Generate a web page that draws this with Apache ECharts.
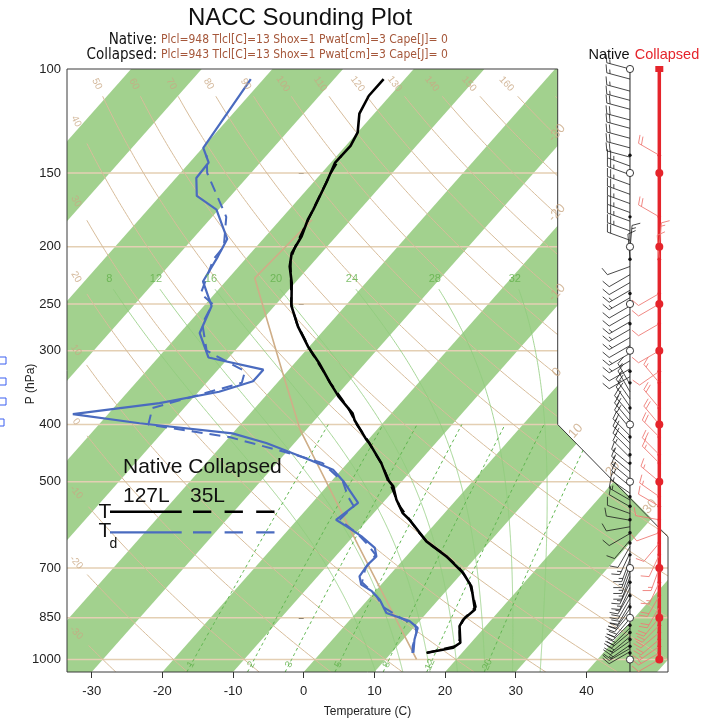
<!DOCTYPE html>
<html><head><meta charset="utf-8">
<script src="https://cdn.jsdelivr.net/npm/echarts@6/dist/echarts.min.js"></script>
<style>html,body{margin:0;padding:0;background:#fff}#c{width:710px;height:719px}</style>
</head><body><div id="c"></div>
<script>
// ---------------- DATA ----------------
const nativeP_T = [974,955,937,878,856,823,752,713,669,631,580,565,536,509,496,465,430,424,393,383,358,354,340,315,295,273,252,230,216,205,192,180,173,156,144,135,128,119,111,104];
const nativeT   = [15.0,18.1,18.5,16.3,16.0,16.4,13.0,10.1,5.7,1.0,-4.1,-5.9,-8.5,-10.6,-12.2,-15.2,-19.4,-20.3,-24.4,-25.5,-29.7,-30.3,-32.5,-36.5,-40.2,-44.1,-47.6,-50.5,-52.8,-54.2,-54.9,-56.1,-56.6,-58.1,-59.4,-59.3,-60.0,-62.1,-63.0,-63.0];
const nativeP_Td = [974,925,884,861,834,792,766,747,723,691,669,647,618,595,580,543,499,477,459,430,414,398,384,368,352,338,323,308,280,252,229,208,194,173,164,153,144,136,104];
const nativeTd   = [13.1,11.6,10.6,8.6,4.3,1.7,-0.5,-2.8,-4.1,-4.4,-4.2,-5.5,-8.9,-12.2,-14.5,-13.5,-18.3,-21.2,-25.8,-34.0,-40.0,-54.4,-65.0,-54.1,-47.1,-43.6,-43.6,-52.9,-57.2,-58.9,-63.2,-64.2,-65.1,-70.3,-74.8,-77.1,-77.3,-79.9,-81.8];

const collapsedP  = [1000,975,950,925,900,875,850,815,780,740,700,665,635,610,580,550,530,500,465,450,420,400,375,340,325,300,270,250,240,210,200,178,150,140,100];
const collapsedT  = [null,15.0,18.2,18.0,17.1,16.3,16.0,16.2,14.4,12.2,9.0,5.3,1.4,-1.1,-4.1,-7.2,-9.0,-11.7,-15.2,-17.0,-20.7,-23.5,-26.8,-32.5,-34.9,-39.3,-44.6,-47.9,-49.2,-53.6,-54.5,-56.2,-58.7,-59.4,null];
const collapsedTd = [null,13.0,12.2,11.6,11.0,9.9,6.9,3.1,0.7,-3.0,-4.3,-4.5,-7.3,-10.0,-14.0,-13.7,-15.7,-18.3,-23.5,-28.5,-40.0,-53.0,-54.5,-45.0,-46.0,-54.0,-58.0,-59.0,-62.0,-64.5,-64.6,-68.0,-76.2,-78.5,null];
const collapsedWindSpd = [10,15,15,20,20,20,20,20,20,15,15,10,10,10,10,10,15,15,15,20,20,20,20,15,10,10,10,10,10,10,15,20,0,20,0];
const collapsedWindDir = [240,240,235,230,230,225,220,210,210,205,200,205,220,250,280,300,305,310,315,315,315,320,320,320,235,240,240,240,240,355,5,300,0,300,0];

const nativeWindP = [100,104,109,113,117,122,126,131,136,141,146,151,157,163,169,175,181,188,195,202,209,216,223,230,237,244,252,260,268,276,285,294,303,312,322,332,342,352,362,373,384,395,406,418,430,442,455,468,481,495,509,523,537,551,566,581,596,612,628,644,660,676,692,708,724,740,756,772,788,804,820,836,852,868,884,900,915,930,945,958,970];
const nativeWindDir = [285,285,285,285,285,285,285,285,285,285,290,290,290,290,290,290,290,290,290,5,355,250,240,240,240,240,240,240,240,240,240,240,240,240,240,240,330,330,325,325,320,320,320,315,315,315,315,310,310,310,310,305,300,300,290,280,260,240,220,210,205,200,200,200,200,205,205,210,210,210,215,220,220,225,225,230,230,235,235,240,240];
const nativeWindSpd = [15,15,15,15,20,20,20,20,20,20,25,25,25,25,25,25,25,25,20,15,10,10,10,10,15,15,10,10,15,15,15,10,15,15,10,10,15,15,20,20,20,20,20,20,20,20,15,15,15,15,15,15,15,10,10,10,10,10,10,10,15,15,15,15,15,15,15,15,20,20,20,20,20,20,20,20,20,15,15,15,10];

const parcelP = [1000,639,408,323,226,180];
const parcelT = [14.4,-8.3,-30.9,-41.0,-56.3,-55.5];

const xTicks = [-30,-20,-10,0,10,20,30,40];
const pTicks = [100,150,200,250,300,400,500,700,850,1000];
const mandatoryP = [100,150,200,250,300,400,500,700,850,1000];
const dryThetas = [-40,-30,-20,-10,0,10,20,30,40,50,60,70,80,90,100,110,120,130,140,150,160,170];
const moistThetaW = [8,12,16,20,24,28,32];
const mixRatios = [1,2,3,5,8,12,20];
const isoLabelsEdge = [-30,-20,-10,0];
const isoLabelsDiag = [10,20,30];

// ---------------- geometry helpers ----------------
const S = 74, LOGB = Math.log10(1050);
const X_MIN = -33.5, X_MAX = 51.55, X_NOTCH = 35.94;
const COL_NATIVE = 46.17, COL_COLL = 50.32;
function toXY(T, p){ const lp = Math.log10(p); return [T + S*(LOGB - lp), lp]; }
function dryT(th, p){ return (th+273.15)*Math.pow(p/1000, 0.2857) - 273.15; }
function dTdp(T,p){ const Tc=T-273.15; const es=6.112*Math.exp(17.67*Tc/(Tc+243.5)); const rs=0.622*es/(p-es);
  const Lv=2.501e6,Rd=287.04,cp=1005.7; return (Rd*T+Lv*rs)/(p*(cp+Lv*Lv*rs*0.622/(Rd*T*T))); }
function rk(T,p,dp){ const k1=dTdp(T,p),k2=dTdp(T+k1*dp/2,p+dp/2),k3=dTdp(T+k2*dp/2,p+dp/2),k4=dTdp(T+k3*dp,p+dp); return T+dp*(k1+2*k2+2*k3+k4)/6; }
function moistCurve(tw){ let T=tw+273.15,p=1000; const down=[]; while(p<1050){T=rk(T,p,2);p+=2;down.push(toXY(T-273.15,p));}
  T=tw+273.15;p=1000; const up=[toXY(tw,1000)]; while(p>236){T=rk(T,p,-2);p-=2;up.push(toXY(T-273.15,p));} return down.reverse().concat(up); }
function tdFromW(w,p){ const e=w*p/(622+w); const l=Math.log(e/6.112); return 243.5*l/(17.67-l); }
function bisect(f,a,b){ let fa=f(a); for(let i=0;i<60;i++){ const m=(a+b)/2, fm=f(m); if((fm>0)===(fa>0)){a=m;fa=fm;} else b=m; } return (a+b)/2; }

const dryLines = dryThetas.map(th=>{ const pts=[]; for(let lp=LOGB; lp>=Math.log10(110)-1e-9; lp-=0.005){ const p=Math.pow(10,lp); const xy=toXY(dryT(th,p),p); if(th<=40 && xy[0]<-30.8) continue; pts.push(xy);} return pts; });
const moistLines = moistThetaW.map(moistCurve);
const mixLines = mixRatios.map(w=>{ const pts=[]; for(let p=1050;p>=400;p-=10) pts.push(toXY(tdFromW(w,p),p)); return pts; });

const PXDEG = 601/(X_MAX-X_MIN), PXDEC = 603/(LOGB-2);
const labelData = [];
const tan='#c9a883', grn='#62b04a';
dryThetas.forEach(th=>{
  if(th>=50 && th<=160){ const p=106, T=dryT(th,p)+273.15; const ang=Math.atan(PXDEC/(PXDEG*(0.658*T-S)))*180/Math.PI;
    labelData.push({value:toXY(dryT(th,p),p), label:{formatter:String(th), rotate:-ang, color:tan, fontSize:10}}); }
  if(th>=-30 && th<=40){ const lp=bisect(l=>{const p=Math.pow(10,l); return toXY(dryT(th,p),p)[0]+32.2;}, 2, LOGB); const p=Math.pow(10,lp);
    const T=dryT(th,p)+273.15; const ang=Math.atan(PXDEC/(PXDEG*(0.658*T-S)))*180/Math.PI;
    labelData.push({value:[-32.2,lp], label:{formatter:String(th), rotate:-ang, color:tan, fontSize:10}}); }
});
const isoAng = Math.atan(PXDEC/(PXDEG*S))*180/Math.PI;
isoLabelsEdge.forEach(T=>{ const lp=LOGB-(X_NOTCH-T)/S; labelData.push({value:[X_NOTCH,lp], label:{formatter:String(T), rotate:isoAng, offset:[9,-9], color:tan, fontSize:13}}); });
isoLabelsDiag.forEach(T=>{ const l1=Math.log10(400), l2=Math.log10(620);
  const t=bisect(tt=>{const x=X_NOTCH+tt*(X_MAX-X_NOTCH), lp=l1+tt*(l2-l1); return T+S*(LOGB-lp)-x;},0,1);
  labelData.push({value:[X_NOTCH+t*(X_MAX-X_NOTCH), l1+t*(l2-l1)], label:{formatter:String(T), rotate:isoAng, offset:[9,-9], color:tan, fontSize:13}}); });
moistLines.forEach((pts,i)=>{ const e=pts[pts.length-1]; labelData.push({value:e, label:{formatter:String(moistThetaW[i]), offset:[-4,-10], color:grn, fontSize:11}}); });
mixRatios.forEach(w=>{ const p=1020, td=tdFromW(w,p); const dd=Math.pow(243.5+td,2)/(243.5*17.67)*Math.LN10;
  const ang=Math.atan(PXDEC/(PXDEG*(S-dd)))*180/Math.PI; labelData.push({value:toXY(td,p), label:{formatter:String(w), rotate:ang, color:grn, fontSize:10}}); });

const stripeStarts = []; for(let t=-120;t<=40;t+=20) stripeStarts.push(t);

function polyRender(lines, style){ return function(params, api){ const pts=lines[params.dataIndex].map(a=>api.coord(a)); return {type:'polyline', shape:{points:pts}, style:Object.assign({fill:null}, style), silent:true}; }; }
function ph(n){ const a=[]; for(let i=0;i<n;i++) a.push([0,2.5]); return a; }

function barbRender(color, lw, L, FL){
  return function(params, api){
    const c=api.coord([api.value(0), api.value(1)]), spd=api.value(2), dir=api.value(3); const ch=[];
    if(spd>=2.5){ const th=dir*Math.PI/180, ux=Math.sin(th), uy=-Math.cos(th); const px=-uy, py=ux;
      const fx=px*0.94+ux*0.34, fy=py*0.94+uy*0.34; const tx=c[0]+ux*L, ty=c[1]+uy*L;
      const st={stroke:color, lineWidth:lw};
      ch.push({type:'line', shape:{x1:c[0],y1:c[1],x2:tx,y2:ty}, style:st});
      const r=Math.round(spd/5)*5, nF=Math.floor(r/10), half=(r%10)>=5, sp=3.4; let pos=(nF===0&&half)?sp:0;
      for(let k=0;k<nF;k++){ const bx=tx-ux*pos, by=ty-uy*pos; ch.push({type:'line', shape:{x1:bx,y1:by,x2:bx+fx*FL,y2:by+fy*FL}, style:st}); pos+=sp; }
      if(half){ const bx=tx-ux*pos, by=ty-uy*pos; ch.push({type:'line', shape:{x1:bx,y1:by,x2:bx+fx*FL/2,y2:by+fy*FL/2}, style:st}); }
    }
    return {type:'group', children:ch, silent:true};
  };
}

const chart = echarts.init(document.getElementById('c'), null, {renderer:'canvas'});
const FONT="'Liberation Sans', Arial, sans-serif";
const NARROW="'Liberation Sans Narrow','DejaVu Sans Condensed','Liberation Sans',sans-serif";
const lineData = (P, V)=>P.map((p,i)=>V[i]==null?null:toXY(V[i],p)).filter(a=>a);

function txt(text, x, y, size, color, align, opts){ return Object.assign({type:'text', x:x, y:y, silent:true, z:100,
  style:{text:text, fill:color||'#000', fontSize:size, fontFamily:(opts&&opts.ff)||FONT, align:align||'center', textAlign:align||'center', verticalAlign:'middle', textVerticalAlign:'middle'}}, opts&&opts.el||{}); }
function seg(x1,y1,x2,y2,color,w,dash){ return {type:'line', shape:{x1,y1,x2,y2}, style:{stroke:color,lineWidth:w,lineDash:dash||null}, z:100, silent:true}; }

const option = {
  animation:false, backgroundColor:'#fff',
  grid:{left:67, top:69, width:601, height:603, show:false},
  xAxis:{type:'value', min:X_MIN, max:X_MAX, axisLine:{show:false}, splitLine:{show:false},
    axisTick:{show:true, length:6, customValues:xTicks, lineStyle:{color:'#333'}},
    axisLabel:{customValues:xTicks, fontSize:13, color:'#222', margin:13, fontFamily:FONT}},
  yAxis:{type:'value', inverse:true, min:2, max:LOGB, axisLine:{show:false}, splitLine:{show:false},
    axisTick:{show:true, length:5, customValues:pTicks.map(p=>Math.log10(p)), lineStyle:{color:'#333'}},
    axisLabel:{customValues:pTicks.map(p=>Math.log10(p)), formatter:v=>String(Math.round(Math.pow(10,v))), fontSize:13, color:'#222', margin:6, fontFamily:FONT}},
  series:[
    {type:'custom', z:1, clip:true, silent:true, data:ph(stripeStarts.length), renderItem:(params,api)=>{ const t1=stripeStarts[params.dataIndex];
      const pts=[toXY(t1,1050),toXY(t1+10,1050),toXY(t1+10,100),toXY(t1,100)].map(a=>api.coord(a)); return {type:'polygon', shape:{points:pts}, style:{fill:'#a2d18e'}}; }},
    {type:'custom', z:2, clip:true, silent:true, data:ph(pTicks.length-1), renderItem:(params,api)=>{ const lp=Math.log10(pTicks[params.dataIndex+1]);
      const a=api.coord([X_MIN,lp]), b=api.coord([X_MAX,lp]); return {type:'line', shape:{x1:a[0],y1:a[1],x2:b[0],y2:b[1]}, style:{stroke:'#e4cfb3', lineWidth:1.6}}; }},
    {type:'custom', z:2, clip:true, silent:true, data:ph(dryLines.length), renderItem:polyRender(dryLines,{stroke:'#d8bd9b', lineWidth:1})},
    {type:'custom', z:2, clip:true, silent:true, data:ph(moistLines.length), renderItem:polyRender(moistLines,{stroke:'#8fcc7c', lineWidth:0.8})},
    {type:'custom', z:2, clip:true, silent:true, data:ph(mixLines.length), renderItem:polyRender(mixLines,{stroke:'#5fb64f', lineWidth:1, lineDash:[3,3]})},
    {type:'line', z:3, name:'parcel', data:lineData(parcelP,parcelT), showSymbol:false, silent:true, lineStyle:{color:'#cfae88', width:1.6}},
    {type:'custom', z:4, clip:false, silent:true, data:ph(1), renderItem:(params,api)=>{ const pts=[[X_NOTCH,2],[X_MAX+0.3,2],[X_MAX+0.3,Math.log10(620)],[X_NOTCH,Math.log10(400)]].map(a=>api.coord(a));
      pts[0][1]-=1; pts[1][1]-=1; return {type:'polygon', shape:{points:pts}, style:{fill:'#fff'}}; }},
    {type:'custom', z:5, clip:false, silent:true, data:ph(1), renderItem:(params,api)=>{ const pts=[[X_MIN,2],[X_NOTCH,2],[X_NOTCH,Math.log10(400)],[X_MAX,Math.log10(620)],[X_MAX,LOGB],[X_MIN,LOGB]].map(a=>api.coord(a));
      return {type:'polygon', shape:{points:pts}, style:{fill:null, stroke:'#3a3a3a', lineWidth:1}}; }},
    {type:'line', z:6, name:'Td collapsed', data:lineData(collapsedP,collapsedTd), showSymbol:false, silent:true, lineStyle:{color:'#4a6bbf', width:2, type:[11,7]}},
    {type:'line', z:6, name:'T collapsed', data:lineData(collapsedP,collapsedT), showSymbol:false, silent:true, lineStyle:{color:'#000', width:2.2, type:[11,7]}},
    {type:'line', z:7, name:'Td native', data:lineData(nativeP_Td,nativeTd), showSymbol:false, silent:true, lineStyle:{color:'#4a6bbf', width:2.2}},
    {type:'line', z:7, name:'T native', data:lineData(nativeP_T,nativeT), showSymbol:false, silent:true, lineStyle:{color:'#000', width:2.6}},
    {type:'scatter', z:8, clip:false, silent:true, symbolSize:0, data:labelData, label:{show:true, position:'inside', fontFamily:FONT}},
    {type:'custom', z:9, clip:false, silent:true, data:ph(1), renderItem:(params,api)=>{ const a=api.coord([COL_NATIVE,2]), b=api.coord([COL_NATIVE,LOGB]);
      const c=api.coord([COL_COLL,2]), d=api.coord([COL_COLL,3]);
      return {type:'group', children:[{type:'line', shape:{x1:a[0],y1:a[1],x2:b[0],y2:b[1]}, style:{stroke:'#222',lineWidth:1}},
        {type:'line', shape:{x1:c[0],y1:c[1],x2:d[0],y2:d[1]}, style:{stroke:'#e5242b',lineWidth:3.5}}]}; }},
    {type:'custom', z:10, clip:false, silent:true, data:nativeWindP.map((p,i)=>[COL_NATIVE,Math.log10(p),nativeWindSpd[i],nativeWindDir[i]]),
      encode:{x:0,y:1}, renderItem:barbRender('#1a1a1a',0.8,24,8.5)},
    {type:'custom', z:10, clip:false, silent:true, data:collapsedP.map((p,i)=>[COL_COLL,Math.log10(p),collapsedWindSpd[i],collapsedWindDir[i]]),
      encode:{x:0,y:1}, renderItem:barbRender('#ee7c76',0.9,24,8.5)},
    {type:'custom', z:11, clip:false, silent:true, data:collapsedP.map(p=>[COL_NATIVE,Math.log10(p),mandatoryP.includes(p)?1:0]), encode:{x:0,y:1},
      renderItem:(params,api)=>{ const c=api.coord([api.value(0),api.value(1)]); return api.value(2)?{type:'circle', shape:{cx:c[0],cy:c[1],r:3.6}, style:{fill:'#fff',stroke:'#222',lineWidth:0.9}}:{type:'circle', shape:{cx:c[0],cy:c[1],r:1.7}, style:{fill:'#111'}}; }},
    {type:'custom', z:11, clip:false, silent:true, data:collapsedP.map(p=>[COL_COLL,Math.log10(p),p===100?2:(mandatoryP.includes(p)?1:0)]), encode:{x:0,y:1},
      renderItem:(params,api)=>{ const c=api.coord([api.value(0),api.value(1)]); const k=api.value(2);
        if(k===2) return {type:'rect', shape:{x:c[0]-4,y:c[1]-3,width:8,height:6}, style:{fill:'#e5242b'}};
        return {type:'circle', shape:{cx:c[0],cy:c[1],r:k?4:1.8}, style:{fill:'#e5242b'}}; }}
  ],
  graphic:[
    txt('NACC Sounding Plot', 300, 18, 24, '#111'),
    txt('Native:', 157, 40, 15, '#111', 'right', {ff:NARROW}),
    txt('Plcl=948 Tlcl[C]=13 Shox=1 Pwat[cm]=3 Cape[J]= 0', 161, 40, 12, '#a5573a', 'left', {ff:NARROW}),
    txt('Collapsed:', 157, 55, 15, '#111', 'right', {ff:NARROW}),
    txt('Plcl=943 Tlcl[C]=13 Shox=1 Pwat[cm]=3 Cape[J]= 0', 161, 55, 12, '#a5573a', 'left', {ff:NARROW}),
    txt('Native', 609, 55, 14.5, '#111'),
    txt('Collapsed', 667, 55, 14.5, '#e5242b'),
    txt('Temperature (C)', 367.5, 712, 12, '#222'),
    txt('P (hPa)', 31, 384, 12, '#222', 'center', {el:{rotation:Math.PI/2}}),
    txt('Native Collapsed', 123, 467, 21, '#111', 'left'),
    txt('127L', 123, 496, 21, '#111', 'left'),
    txt('35L', 190, 496, 21, '#111', 'left'),
    txt('T', 105, 512, 21, '#111'),
    txt('T', 105, 531.5, 21, '#111'),
    txt('d', 113.5, 544, 14, '#111'),
    seg(110,511.7,181.7,511.7,'#000',2.4),
    seg(193,511.7,275,511.7,'#000',2.4,[18.3,13.3]),
    seg(110,532.3,181.7,532.3,'#4a6bbf',2.2),
    seg(193,532.3,275,532.3,'#4a6bbf',2.2,[18.3,13.3]),
    {type:'rect', shape:{x:-1,y:357,width:7,height:7}, style:{fill:null,stroke:'#3b5ff0',lineWidth:1}, z:100, silent:true},
    {type:'rect', shape:{x:-1,y:378,width:7,height:7}, style:{fill:null,stroke:'#3b5ff0',lineWidth:1}, z:100, silent:true},
    {type:'rect', shape:{x:-1,y:398,width:7,height:7}, style:{fill:null,stroke:'#3b5ff0',lineWidth:1}, z:100, silent:true},
    {type:'rect', shape:{x:-3,y:419,width:7,height:7}, style:{fill:null,stroke:'#3b5ff0',lineWidth:1}, z:100, silent:true}
  ]
};
chart.setOption(option);
</script></body></html>
